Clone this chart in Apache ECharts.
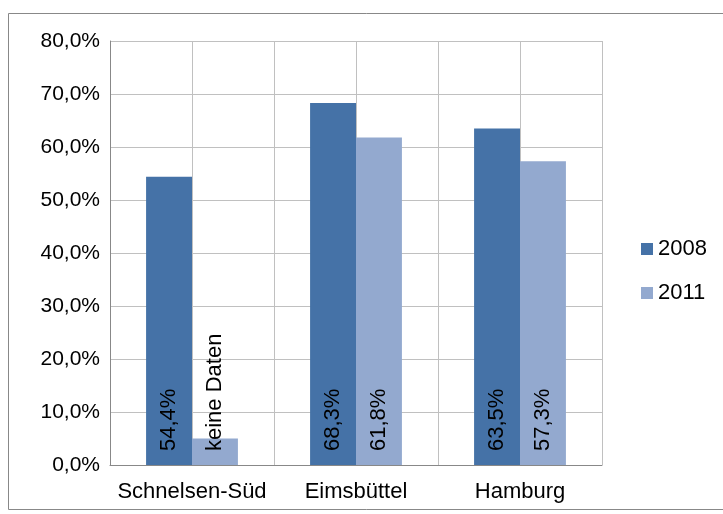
<!DOCTYPE html>
<html><head><meta charset="utf-8">
<script src="https://cdn.jsdelivr.net/npm/echarts@6/dist/echarts.min.js"></script>
<style>html,body{margin:0;padding:0;background:#fff}#c{width:723px;height:514px}</style>
</head><body><div id="c"></div>
<script>
const categories = ['Schnelsen-Süd', 'Eimsbüttel', 'Hamburg'];
const seriesNames = ['2008', '2011'];
const values2008 = [54.4, 68.3, 63.5];
const values2011 = [5, 61.8, 57.3];           // first value: placeholder bar ("keine Daten")
const labels2011 = ['keine Daten', null, null];
const yTicks = { min: 0, max: 80, interval: 10 };

const fmt = v => v.toFixed(1).replace('.', ',') + '%';
const FONT = 'Liberation Sans, Arial, sans-serif';
const labelCfg = {
  show: true, position: 'insideBottom', rotate: 90, align: 'left', verticalAlign: 'middle',
  distance: 14, fontSize: 22, fontFamily: FONT, color: '#000'
};
const chart = echarts.init(document.getElementById('c'), null, { renderer: 'canvas' });
chart.setOption({
  animation: false,
  backgroundColor: '#fff',
  graphic: [{ type: 'rect', shape: { x: 8.5, y: 13.5, width: 740, height: 496 }, style: { fill: 'none', stroke: '#888', lineWidth: 1 }, silent: true }],
  grid: { left: 110, right: 121, top: 41, bottom: 49 },
  legend: {
    orient: 'vertical', left: 636, top: 233, itemWidth: 12, itemHeight: 12, itemGap: 22,
    icon: 'rect', textStyle: { fontSize: 22, fontFamily: FONT, color: '#000' }
  },
  xAxis: [{
    type: 'category', data: categories,
    axisLine: { lineStyle: { color: '#888' } }, axisTick: { show: false },
    axisLabel: { interval: 0, fontSize: 22, fontFamily: FONT, color: '#000', margin: 16 },
    splitLine: { show: true, interval: 0, lineStyle: { color: '#C0C0C0' } }
  }, {
    type: 'category', data: ['', '', '', '', '', ''], position: 'bottom',
    axisLine: { show: false }, axisTick: { show: false }, axisLabel: { show: false },
    splitLine: { show: true, interval: 0, lineStyle: { color: '#C0C0C0' } }
  }],
  yAxis: {
    type: 'value', min: yTicks.min, max: yTicks.max, interval: yTicks.interval,
    axisLine: { show: true, lineStyle: { color: '#888' } },
    axisLabel: { fontSize: 21, fontFamily: FONT, color: '#000', margin: 10, formatter: v => fmt(v) },
    splitLine: { lineStyle: { color: '#C0C0C0' } }
  },
  series: [{
    name: seriesNames[0], type: 'bar', data: values2008, barGap: '0%', barCategoryGap: '44%',
    itemStyle: { color: '#4572A7' },
    label: Object.assign({}, labelCfg, { formatter: p => fmt(p.value) })
  }, {
    name: seriesNames[1], type: 'bar', data: values2011, barGap: '0%', barCategoryGap: '44%',
    itemStyle: { color: '#93A9CF' },
    label: Object.assign({}, labelCfg, { formatter: p => labels2011[p.dataIndex] || fmt(p.value) })
  }]
});
</script></body></html>
